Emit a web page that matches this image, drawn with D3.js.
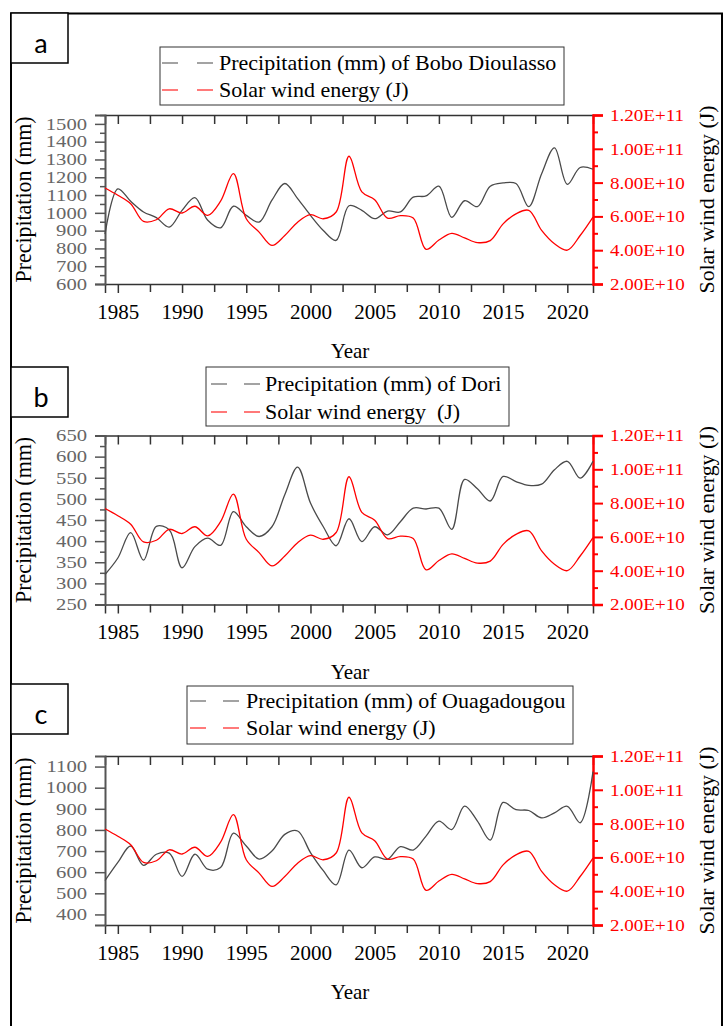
<!DOCTYPE html>
<html>
<head>
<meta charset="utf-8">
<script src="https://cdn.jsdelivr.net/npm/d3@7"></script>
<style>
  html, body { margin: 0; padding: 0; background: #fff; }
  svg { display: block; }
  .serif { font-family: "Liberation Serif", Tinos, "Times New Roman", Times, "DejaVu Serif", serif; }
</style>
</head>
<body>
<svg id="chart" width="725" height="1026"></svg>
<script>
// ---------------- DATA ----------------
const years = [1984, 1985, 1986, 1987, 1988, 1989, 1990, 1991, 1992, 1993,
               1994, 1995, 1996, 1997, 1998, 1999, 2000, 2001, 2002, 2003,
               2004, 2005, 2006, 2007, 2008, 2009, 2010, 2011, 2012, 2013,
               2014, 2015, 2016, 2017, 2018, 2019, 2020, 2021, 2022];

const precipBoboDioulasso = [880, 1135, 1065, 1005, 973, 920, 1014, 1086, 958, 916,
                             1037, 986, 948, 1071, 1165, 1080, 986, 901, 845, 1040,
                             1014, 967, 1010, 1005, 1088, 1095, 1150, 975, 1068, 1035,
                             1150, 1168, 1165, 1035, 1220, 1365, 1160, 1255, 1245];

const precipDori = [321, 360, 420, 355, 435, 427, 337, 387, 407, 390,
                    470, 434, 411, 434, 510, 575, 490, 434, 389, 453,
                    399, 434, 415, 446, 478, 476, 478, 428, 546, 524,
                    495, 553, 541, 532, 535, 569, 589, 549, 589];

const precipOuagadougou = [560, 646, 724, 632, 685, 690, 580, 685, 614, 622,
                           785, 724, 662, 700, 779, 795, 693, 607, 540, 704,
                           621, 672, 661, 721, 705, 771, 842, 802, 913, 842,
                           752, 930, 896, 892, 857, 881, 912, 834, 1076];

const solarWindEnergy = [7.68e10, 7.25e10, 6.75e10, 5.70e10, 5.80e10, 6.45e10, 6.20e10, 6.60e10, 6.06e10, 6.90e10,
                         8.53e10, 5.86e10, 5.07e10, 4.28e10, 4.87e10, 5.66e10, 6.10e10, 5.86e10, 6.26e10, 9.56e10,
                         7.45e10, 6.99e10, 5.90e10, 6.05e10, 5.90e10, 4.05e10, 4.60e10, 5.00e10, 4.73e10, 4.45e10,
                         4.57e10, 5.56e10, 6.15e10, 6.36e10, 5.17e10, 4.38e10, 4.00e10, 4.87e10, 5.96e10];

const yearTickLabels = [1985, 1990, 1995, 2000, 2005, 2010, 2015, 2020];
const solarTickLabels = [2e10, 4e10, 6e10, 8e10, 1e11, 1.2e11];

const panelLetters = ["a", "b", "c"];
const precipLegendNames = ["Precipitation (mm) of Bobo Dioulasso",
                           "Precipitation (mm) of Dori",
                           "Precipitation (mm) of Ouagadougou"];
const solarLegendNames = ["Solar wind energy (J)", "Solar wind energy  (J)", "Solar wind energy (J)"];
const precipSeries = [precipBoboDioulasso, precipDori, precipOuagadougou];
const precipDomains = [[600, 1550], [250, 650], [350, 1150]];
const precipTickLabels = [
  [600, 700, 800, 900, 1000, 1100, 1200, 1300, 1400, 1500],
  [250, 300, 350, 400, 450, 500, 550, 600, 650],
  [400, 500, 600, 700, 800, 900, 1000, 1100]
];

// ---------------- LAYOUT ----------------
const svg = d3.select("#chart");
const plotLeft = 105, plotRight = 593, plotH = 169;
const layouts = [
  { top: 115,   letterTop: 13,  legend: { x: 160, y: 47,  w: 404, h: 58, l1: 162, l2: 197, tx: 219, r1: 70,  r2: 97 } },
  { top: 435.5, letterTop: 367, legend: { x: 206, y: 367, w: 303, h: 59, l1: 211, l2: 244, tx: 265, r1: 391, r2: 419 } },
  { top: 756,   letterTop: 684, legend: { x: 187, y: 686, w: 386, h: 58, l1: 190, l2: 223, tx: 246, r1: 708, r2: 735 } }
];

// outer frame
svg.append("rect").attr("x", 11).attr("y", 13.5).attr("width", 711).attr("height", 1030)
  .attr("fill", "none").attr("stroke", "#000").attr("stroke-width", 2);

const x = d3.scaleLinear().domain([1984, 2022]).range([plotLeft, plotRight]);

function stretch(sel, k) {
  sel.each(function () {
    const len = this.getComputedTextLength();
    d3.select(this).attr("textLength", len * k).attr("lengthAdjust", "spacingAndGlyphs");
  });
}

layouts.forEach((L, i) => {
  const top = L.top, bottom = L.top + plotH;
  const yL = d3.scaleLinear().domain(precipDomains[i]).range([bottom, top]);
  const yR = d3.scaleLinear().domain([2e10, 1.2e11]).range([bottom, top]);
  const g = svg.append("g");

  // letter box
  g.append("rect").attr("x", 11).attr("y", L.letterTop).attr("width", 57).attr("height", 50)
    .attr("fill", "#fff").attr("stroke", "#000").attr("stroke-width", 1.5);
  g.append("text").attr("x", 41).attr("y", L.letterTop + 40).attr("text-anchor", "middle")
    .style("font-family", "Lato, 'Open Sans', sans-serif").style("font-size", "27px")
    .text(panelLetters[i]);

  // legend
  const lg = L.legend;
  g.append("rect").attr("x", lg.x).attr("y", lg.y).attr("width", lg.w).attr("height", lg.h)
    .attr("fill", "#fff").attr("stroke", "#333").attr("stroke-width", 1);
  [[lg.r1, "#666", precipLegendNames[i]], [lg.r2, "#ff2020", solarLegendNames[i]]].forEach(([by, col, name]) => {
    const cy = by - 7;
    [lg.l1, lg.l2].forEach(sx => {
      g.append("line").attr("x1", sx).attr("x2", sx + 16).attr("y1", cy).attr("y2", cy)
        .attr("stroke", col).attr("stroke-width", 1.2);
    });
    g.append("text").attr("class", "serif").attr("x", lg.tx).attr("y", by)
      .style("font-size", "22px").style("white-space", "pre")
      .attr("fill", "#000").text(name);
  });

  // bottom axis (major + minor)
  const minorYears = yearTickLabels.map(v => v + 2.5).filter(v => v <= 2022);
  const gb = g.append("g").attr("transform", `translate(0,${bottom})`)
    .call(d3.axisBottom(x).tickValues(yearTickLabels).tickSize(9).tickPadding(11).tickFormat(d3.format("d")));
  g.append("g").attr("transform", `translate(0,${bottom})`)
    .call(d3.axisBottom(x).tickValues(minorYears).tickSize(8).tickFormat(""))
    .call(a => a.select(".domain").remove())
    .selectAll(".tick line").attr("stroke", "#333").attr("stroke-width", 1.5);
  gb.attr("font-family", null);
  gb.selectAll("text").attr("class", "serif").style("font-size", "21px").attr("fill", "#000");
  gb.select(".domain").attr("stroke", "#333").attr("stroke-width", 1.5);
  gb.selectAll(".tick line").attr("stroke", "#333").attr("stroke-width", 1.5);

  // top axis (inward ticks)
  const gt = g.append("g").attr("transform", `translate(0,${top})`)
    .call(d3.axisTop(x).tickValues(yearTickLabels.concat(minorYears)).tickSize(-9).tickFormat(""));
  gt.select(".domain").attr("stroke", "#333").attr("stroke-width", 1.5);
  gt.selectAll(".tick line").attr("stroke", "#333").attr("stroke-width", 1.5);

  // left axis
  const majL = precipTickLabels[i];
  const step = majL[1] - majL[0];
  const minL = d3.range(precipDomains[i][0] + step / 2, precipDomains[i][1] + 0.1, step)
    .filter(v => !majL.includes(v));
  const gl = g.append("g").attr("transform", `translate(${plotLeft},0)`)
    .call(d3.axisLeft(yL).tickValues(majL).tickSize(10).tickPadding(8).tickFormat(d3.format("d")));
  g.append("g").attr("transform", `translate(${plotLeft},0)`)
    .call(d3.axisLeft(yL).tickValues(minL).tickSize(5).tickFormat(""))
    .call(a => a.select(".domain").remove())
    .selectAll(".tick line").attr("stroke", "#555").attr("stroke-width", 1.5);
  gl.attr("font-family", null);
  gl.select(".domain").attr("stroke", "#555").attr("stroke-width", 2);
  gl.selectAll(".tick line").attr("stroke", "#555").attr("stroke-width", 1.5);
  const lt = gl.selectAll("text").attr("class", "serif").style("font-size", "16.5px").attr("fill", "#666");
  stretch(lt, 1.25);

  // right axis
  const minR = d3.range(3e10, 1.2e11, 2e10);
  const gr = g.append("g").attr("transform", `translate(${plotRight},0)`)
    .call(d3.axisRight(yR).tickValues(solarTickLabels).tickSize(10).tickPadding(7)
      .tickFormat(v => v.toExponential(2).toUpperCase()));
  g.append("g").attr("transform", `translate(${plotRight},0)`)
    .call(d3.axisRight(yR).tickValues(minR).tickSize(5).tickFormat(""))
    .call(a => a.select(".domain").remove())
    .selectAll(".tick line").attr("stroke", "#ff0000").attr("stroke-width", 2);
  gr.attr("font-family", null);
  gr.select(".domain").attr("stroke", "#ff0000").attr("stroke-width", 2.5);
  gr.selectAll(".tick line").attr("stroke", "#ff0000").attr("stroke-width", 2);
  const rt = gr.selectAll("text").attr("class", "serif").style("font-size", "17px").attr("fill", "#ff0000");
  stretch(rt, 1.12);

  // axis titles
  const cy = (top + bottom) / 2;
  g.append("text").attr("class", "serif").attr("transform", `translate(31,${cy}) rotate(-90)`).attr("text-anchor", "middle")
    .style("font-size", "23px").attr("fill", "#000").text("Precipitation (mm)")
    .attr("textLength", 166).attr("lengthAdjust", "spacingAndGlyphs");
  g.append("text").attr("class", "serif").attr("transform", `translate(714,${cy}) rotate(-90)`).attr("text-anchor", "middle")
    .style("font-size", "22px").attr("fill", "#000").text("Solar wind energy (J)")
    .attr("textLength", 188).attr("lengthAdjust", "spacingAndGlyphs");
  g.append("text").attr("class", "serif").attr("x", (plotLeft + plotRight) / 2 + 1).attr("y", bottom + 74).attr("text-anchor", "middle")
    .style("font-size", "21px").attr("fill", "#000").text("Year");

  // lines
  const lineP = d3.line().x((d, j) => x(years[j])).y(d => yL(d)).curve(d3.curveCatmullRom.alpha(0.5));
  const lineS = d3.line().x((d, j) => x(years[j])).y(d => yR(d)).curve(d3.curveCatmullRom.alpha(0.5));
  g.append("path").datum(precipSeries[i]).attr("d", lineP)
    .attr("fill", "none").attr("stroke", "#4a4a4a").attr("stroke-width", 1.3);
  g.append("path").datum(solarWindEnergy).attr("d", lineS)
    .attr("fill", "none").attr("stroke", "#ff0000").attr("stroke-width", 1.3);
});
</script>
</body>
</html>
